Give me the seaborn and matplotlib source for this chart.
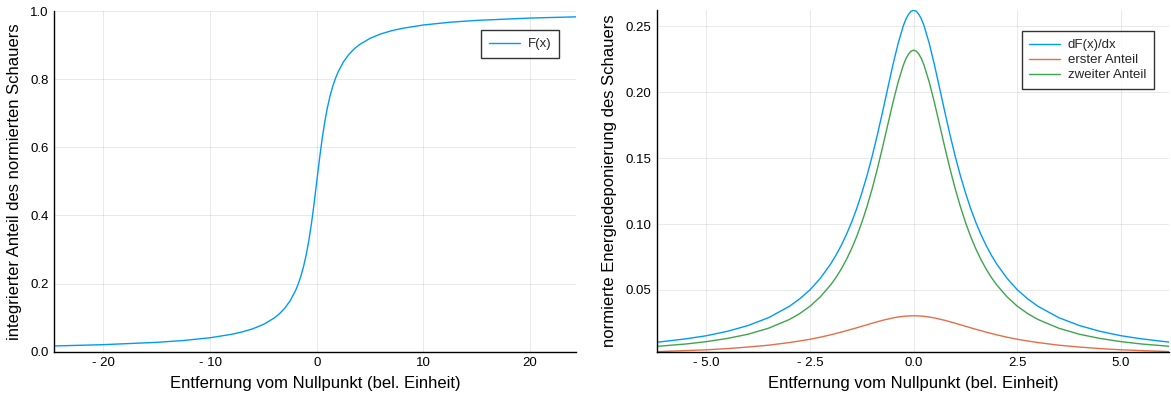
import matplotlib
matplotlib.use("Agg")
import matplotlib.pyplot as plt
import seaborn as sns
import pandas as pd

# left panel: integrated fraction F(x)
x_left = [-24.6, -20, -15, -12.5, -10, -8, -7, -6, -5, -4, -3.5, -3, -2.5, -2, -1.75, -1.5, -1.25, -1,
          -0.75, -0.5, -0.25,
          0, 0.25, 0.5, 0.75, 1, 1.25, 1.5, 1.75, 2, 2.5, 3, 3.5, 4, 5, 6, 7, 8, 10, 12.5, 15, 20, 24.3]
F_vals = [0.0167, 0.0205, 0.0273, 0.0327, 0.0408, 0.0508, 0.0578, 0.0671, 0.0799, 0.0985, 0.1113, 0.1276,
          0.1491, 0.1787, 0.1977, 0.2206, 0.2487, 0.2829, 0.3250, 0.3759, 0.4352,
          0.5, 0.5648, 0.6241, 0.6750, 0.7171, 0.7513, 0.7794, 0.8023, 0.8213, 0.8509, 0.8724, 0.8887,
          0.9015, 0.9201, 0.9329, 0.9422, 0.9492, 0.9592, 0.9673, 0.9727, 0.9795, 0.9831]

# right panel: derivative and its two parts
x_right = [-6.2, -5.5, -5.0, -4.5, -4.0, -3.5, -3.0, -2.75, -2.5, -2.25, -2.0, -1.875, -1.75, -1.625,
           -1.5, -1.375, -1.25, -1.125, -1.0, -0.875, -0.75, -0.625, -0.5, -0.375, -0.25, -0.1875, -0.125,
           -0.0625,
           0, 0.0625, 0.125, 0.1875, 0.25, 0.375, 0.5, 0.625, 0.75, 0.875, 1.0, 1.125, 1.25, 1.375, 1.5,
           1.625, 1.75, 1.875, 2.0, 2.25, 2.5, 2.75, 3.0, 3.5, 4.0, 4.5, 5.0, 5.5, 6.2]
dF_vals = [0.0102, 0.0128, 0.0152, 0.0185, 0.0229, 0.0289, 0.0375, 0.0432, 0.0501, 0.0589, 0.0698, 0.0763,
           0.0836, 0.0919, 0.1012, 0.1117, 0.1237, 0.1369, 0.1517, 0.1679, 0.1853, 0.2032, 0.2210, 0.2372,
           0.2505, 0.2556, 0.2592, 0.2616,
           0.2623, 0.2616, 0.2592, 0.2556, 0.2505, 0.2372, 0.2210, 0.2032, 0.1853, 0.1679, 0.1517, 0.1369,
           0.1237, 0.1117, 0.1012, 0.0919, 0.0836, 0.0763, 0.0698, 0.0589, 0.0501, 0.0432, 0.0375, 0.0289,
           0.0229, 0.0185, 0.0152, 0.0128, 0.0102]
erster = [0.0031, 0.0039, 0.0045, 0.0054, 0.0066, 0.0080, 0.0100, 0.0112, 0.0125, 0.0141, 0.0159, 0.0169,
          0.0179, 0.0190, 0.0201, 0.0212, 0.0224, 0.0235, 0.0247, 0.0258, 0.0269, 0.0278, 0.0287, 0.0294,
          0.0299, 0.0301, 0.0302, 0.0303,
          0.0303, 0.0303, 0.0302, 0.0301, 0.0299, 0.0294, 0.0287, 0.0278, 0.0269, 0.0258, 0.0247, 0.0235,
          0.0224, 0.0212, 0.0201, 0.0190, 0.0179, 0.0169, 0.0159, 0.0141, 0.0125, 0.0112, 0.0100, 0.0080,
          0.0066, 0.0054, 0.0045, 0.0039, 0.0031]
zweiter = [0.0071, 0.0089, 0.0107, 0.0131, 0.0163, 0.0209, 0.0275, 0.0320, 0.0376, 0.0448, 0.0539, 0.0594,
           0.0657, 0.0729, 0.0811, 0.0905, 0.1013, 0.1134, 0.1270, 0.1421, 0.1584, 0.1754, 0.1923, 0.2078,
           0.2206, 0.2255, 0.2290, 0.2313,
           0.2320, 0.2313, 0.2290, 0.2255, 0.2206, 0.2078, 0.1923, 0.1754, 0.1584, 0.1421, 0.1270, 0.1134,
           0.1013, 0.0905, 0.0811, 0.0729, 0.0657, 0.0594, 0.0539, 0.0448, 0.0376, 0.0320, 0.0275, 0.0209,
           0.0163, 0.0131, 0.0107, 0.0089, 0.0071]

xticks_left = [-20, -10, 0, 10, 20]
xticklabels_left = ["- 20", "- 10", "0", "10", "20"]
yticks_left = [0.0, 0.2, 0.4, 0.6, 0.8, 1.0]
yticklabels_left = ["0.0", "0.2", "0.4", "0.6", "0.8", "1.0"]
xticks_right = [-5.0, -2.5, 0.0, 2.5, 5.0]
xticklabels_right = ["- 5.0", "- 2.5", "0.0", "2.5", "5.0"]
yticks_right = [0.05, 0.10, 0.15, 0.20, 0.25]
yticklabels_right = ["0.05", "0.10", "0.15", "0.20", "0.25"]

# Julia / Plots.jl default palette
c_blue = "#009AFA"
c_orange = "#E36F47"
c_green = "#3EA44E"

sns.set_theme(style="white")
plt.rcParams["font.family"] = ["Liberation Sans", "DejaVu Sans"]

df_left = pd.DataFrame({"x": x_left, "F": F_vals})
df_right = pd.DataFrame({"x": x_right, "dF": dF_vals, "erster": erster, "zweiter": zweiter})

W, H = 1171, 396
fig = plt.figure(figsize=(W / 100, H / 100), dpi=100)
ax1 = fig.add_axes([0.0464, 0.112, 0.4455, 0.860])
ax2 = fig.add_axes([0.5608, 0.112, 0.4375, 0.862])

sns.lineplot(data=df_left, x="x", y="F", ax=ax1, color=c_blue, lw=1.0, label="F(x)")

sns.lineplot(data=df_right, x="x", y="dF", ax=ax2, color=c_blue, lw=1.0, label="dF(x)/dx")
sns.lineplot(data=df_right, x="x", y="erster", ax=ax2, color=c_orange, lw=1.0, label="erster Anteil")
sns.lineplot(data=df_right, x="x", y="zweiter", ax=ax2, color=c_green, lw=1.0, label="zweiter Anteil")

ax1.set_xlim(-24.6, 24.3)
ax1.set_ylim(0, 1)
ax2.set_xlim(-6.2, 6.16)
ax2.set_ylim(min(erster), max(dF_vals))

# legend anchor (upper right corner, in pixels)
legend_corner = {ax1: (559, 30), ax2: (1154, 31)}

for ax, xt, xl, yt, yl in [(ax1, xticks_left, xticklabels_left, yticks_left, yticklabels_left),
                           (ax2, xticks_right, xticklabels_right, yticks_right, yticklabels_right)]:
    ax.set_xticks(xt)
    ax.set_xticklabels(xl)
    ax.set_yticks(yt)
    ax.set_yticklabels(yl)
    ax.grid(True, color="black", alpha=0.1, lw=0.6)
    for s in ["top", "right"]:
        ax.spines[s].set_visible(False)
    for s in ["left", "bottom"]:
        ax.spines[s].set_color("black")
        ax.spines[s].set_linewidth(1.0)
    ax.tick_params(direction="in", length=3, width=0.8, labelsize=9.5, colors="black", pad=4)
    ax.set_xlabel("Entfernung vom Nullpunkt (bel. Einheit)", fontsize=12, color="black", labelpad=5)
    cx, cy = legend_corner[ax]
    leg = ax.legend(loc="upper right", bbox_to_anchor=(cx / W, 1 - cy / H), bbox_transform=fig.transFigure,
                    fontsize=9.5, frameon=True, fancybox=False, borderaxespad=0, handlelength=2.3,
                    handletextpad=0.6, labelspacing=0.22, borderpad=0.6)
    leg.get_frame().set_edgecolor("black")
    leg.get_frame().set_linewidth(1.0)

ax1.set_ylabel("integrierter Anteil des normierten Schauers", fontsize=12, color="black", labelpad=6)
ax2.set_ylabel("normierte Energiedeponierung des Schauers", fontsize=12, color="black", labelpad=6)

fig.savefig("out.png", dpi=100)
